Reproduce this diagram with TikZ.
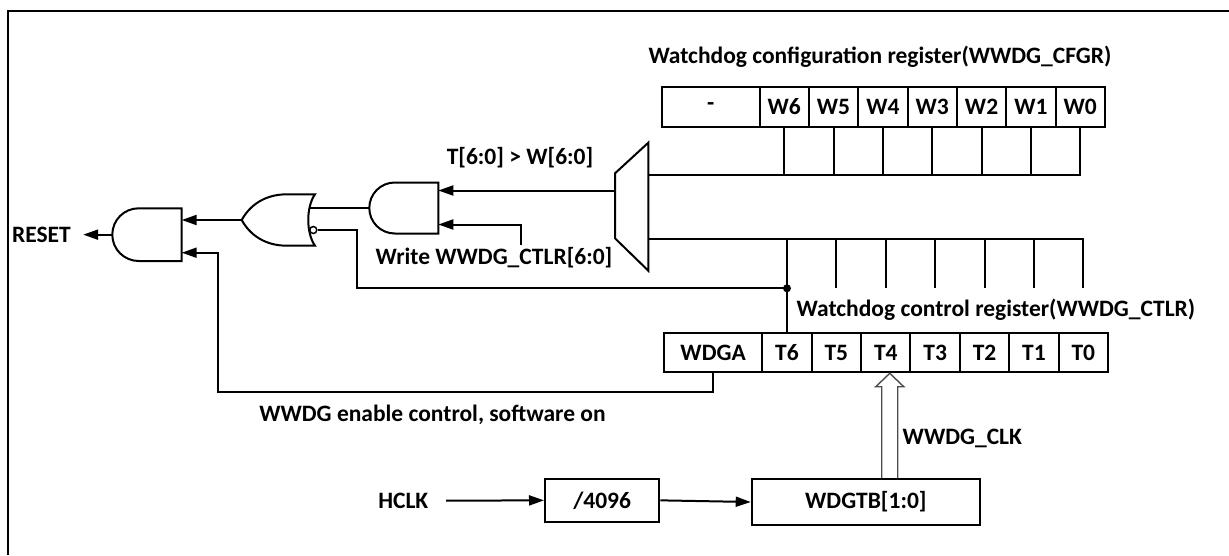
\documentclass[tikz,border=0pt]{standalone}
\usepackage{fontspec}
\setmainfont{Carlito}
\usetikzlibrary{arrows.meta,calc}
\begin{document}
\begin{tikzpicture}[x=1pt,y=-1pt,line width=2pt,
  every node/.style={font=\fontsize{23.5}{28}\selectfont\bfseries},
  cell/.style={draw,line width=2pt,minimum height=40pt,minimum width=49.35pt,inner sep=0pt},
  lbl/.style={anchor=base,inner sep=0pt},
  arr/.style={-{Triangle[length=15pt,width=10pt]}},
  gate/.style={draw,line width=2pt,line join=miter},
  hollow/.style={draw=black!70,line width=1.4pt,line join=miter}]
\useasboundingbox (0,0) rectangle (1229,555);
% frame
\draw (7.7,555) -- (7.7,10.7) -- (1229,10.7);
% configuration register
\node[lbl] (cfgrt) at (880,63.3) {Watchdog configuration register(WWDG\_CFGR)};
\node[cell,minimum width=97.8pt] (wdash) at (710.6,106.7) {-};
\foreach \n [count=\i from 0] in {6,5,4,3,2,1,0}
  \node[cell] (w\n) at (784.18+49.35*\i,106.7) {W\n};
% control register
\node[lbl] (ctlrt) at (996,316.7) {Watchdog control register(WWDG\_CTLR)};
\node[cell,minimum width=98.3pt,minimum height=39.6pt] (wdga) at (713.15,352.5) {WDGA};
\foreach \n [count=\i from 0] in {6,5,4,3,2,1,0}
  \node[cell,minimum width=49.4pt,minimum height=39.6pt] (t\n) at (786.97+49.4*\i,352.5) {T\n};
% comparator (mux shape)
\coordinate (m1) at (648.3,142.7);
\coordinate (m2) at (648.3,270.7);
\coordinate (m3) at (615,238.3);
\coordinate (m4) at (615,173.3);
\draw[line join=miter] (m1) -- (m2) -- (m3) -- (m4) -- cycle;
\coordinate (muxin1) at (648.3,175);
\coordinate (muxin2) at (648.3,239);
\coordinate (muxout) at (615,190.5);
% W bus
\draw (muxin1) -- (w0.south |- muxin1) -- (w0.south);
\foreach \n in {6,5,4,3,2,1}
  \draw (w\n.south) -- (w\n.south |- muxin1);
% T bus
\coordinate (dotrow) at (0,288.3);
\coordinate (dot) at (t6.north |- dotrow);
\draw (muxin2) -- (t0.north |- muxin2) -- (t0.north |- dotrow);
\foreach \n in {5,4,3,2,1}
  \draw (t\n.north |- muxin2) -- (t\n.north |- dotrow);
\draw (t6.north |- muxin2) -- (t6.north);
\fill (dot) circle (4pt);
\node[lbl] (cmp) at (520,164) {T[6:0] > W[6:0]};
% AND gate (compare & write)
\draw[gate] (438.3,182.5) -- (394.8,182.5) .. controls (380.7,182.5) and (369.3,193.9) .. (369.3,208)
  .. controls (369.3,222.1) and (380.7,233.5) .. (394.8,233.5) -- (438.3,233.5) -- cycle;
\coordinate (a2in1) at (438.3,190.5);
\coordinate (a2in2) at (438.3,224.5);
\coordinate (a2out) at (369.3,208);
\draw[arr] (muxout) -- (a2in1);
\node[lbl] (wlbl) at (494,264) {Write WWDG\_CTLR[6:0]};
\coordinate (wsrc) at (520.7,245);
\draw[arr] (wsrc) |- (a2in2);
% OR gate with inverted input
\draw[gate] (315,194.3) -- (287,194.3) .. controls (265,194.3) and (250,205) .. (241.7,220)
  .. controls (250,235) and (265,245.7) .. (287,245.7) -- (315,245.7)
  .. controls (306,233) and (306,207) .. (315,194.3) -- cycle;
\coordinate (orin1) at (310.4,208);
\coordinate (orout) at (241.7,220);
\node[circle,draw,inner sep=0pt,minimum size=7pt,line width=1.5pt] (bub) at (313.3,230) {};
\draw (a2out) -- (orin1);
\draw (bub.east) -- ++(39,0) |- (dot);
% RESET AND gate
\draw[gate] (181.7,208.3) -- (138.65,208.3) .. controls (124.1,208.3) and (112.3,220.1) .. (112.3,234.65)
  .. controls (112.3,249.2) and (124.1,261) .. (138.65,261) -- (181.7,261) -- cycle;
\coordinate (rin1) at (181.7,220);
\coordinate (rin2) at (181.7,252.7);
\coordinate (rout) at (112.3,234.65);
\draw[arr] (orout) -- (rin1);
\node[lbl,anchor=base east] (reset) at (71.7,242) {RESET};
\draw[arr,shorten >=11.5pt] (rout) -- (rout -| reset.east);
\coordinate (wcorner) at (218.3,391.7);
\draw[arr] (wdga.south) |- (wcorner) |- (rin2);
\node[lbl] (enlbl) at (432.5,421.7) {WWDG enable control, software on};
% clock chain
\node[lbl] (hclk) at (403.3,508.3) {HCLK};
\node[draw,line width=2pt,minimum width=114.3pt,minimum height=42.7pt,inner sep=0pt] (div) at (602.15,500.35) {/4096};
\node[draw,line width=2pt,minimum width=228.3pt,minimum height=46pt,inner sep=0pt] (wdgtb) at (865.85,502) {WDGTB[1:0]};
\draw[arr] ([xshift=16.7pt]hclk.east) -- (div.west);
\draw[arr] (div.east) -- (wdgtb.west);
\coordinate (ck) at ($(t4.south)+(4,0)$);
\draw[hollow] ($(ck |- wdgtb.north)+(-8,0)$) -- ($(ck)+(-8,13.4)$) -- ($(ck)+(-14,13.4)$) -- (ck)
  -- ($(ck)+(14,13.4)$) -- ($(ck)+(8,13.4)$) -- ($(ck |- wdgtb.north)+(8,0)$);
\node[lbl,anchor=base west] (clk) at (901.7,444) {WWDG\_CLK};
\end{tikzpicture}
\end{document}
